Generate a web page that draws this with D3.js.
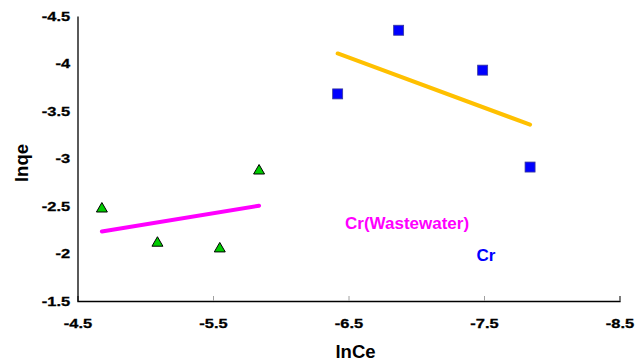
<!DOCTYPE html>
<html>
<head>
<meta charset="utf-8">
<script src="https://cdn.jsdelivr.net/npm/d3@7"></script>
<style>
  html, body { margin: 0; padding: 0; background: #fff; }
  svg { display: block; font-family: "Liberation Sans", Arial, sans-serif; }
</style>
</head>
<body>
<svg id="chart" width="644" height="363"></svg>
<script>
// ---- data ----
const wasteLnCe = [-4.68, -5.09, -5.55, -5.84];
const wasteLnQe = [-2.47, -2.11, -2.05, -2.87];
const crLnCe    = [-6.42, -6.87, -7.49, -7.84];
const crLnQe    = [-3.68, -4.35, -3.93, -2.91];
const xTicks = [-4.5, -5.5, -6.5, -7.5, -8.5];
const yTicks = [-1.5, -2, -2.5, -3, -3.5, -4, -4.5];
const seriesNames = ["Cr(Wastewater)", "Cr"];

const svg = d3.select("#chart");
const x = d3.scaleLinear().domain([-4.5, -8.5]).range([77.5, 619.5]);
const y = d3.scaleLinear().domain([-1.5, -4.5]).range([301, 16]);
const stretch = "scale(1.22,1)";

// axes
const xAxis = svg.append("g").attr("transform", `translate(0,${y(-1.5)})`)
  .call(d3.axisBottom(x).tickValues(xTicks).tickSize(-5).tickPadding(17).tickFormat(d => String(d)));
xAxis.select(".domain").attr("stroke", "#000").attr("stroke-width", 1.3);
xAxis.selectAll(".tick line").attr("stroke", "#a0a0a0");
xAxis.selectAll(".tick text").attr("font-size", 13.5).attr("font-weight", "bold")
  .attr("fill", "#000").attr("stroke", "#000").attr("stroke-width", 0.3)
  .attr("transform", stretch).attr("font-family", "Liberation Sans, Arial, sans-serif");

const yAxis = svg.append("g").attr("transform", `translate(${x(-4.5)},0)`)
  .call(d3.axisLeft(y).tickValues(yTicks).tickSize(0).tickPadding(6).tickFormat(d => String(d)));
yAxis.select(".domain").attr("stroke", "#000").attr("stroke-width", 1.3);
yAxis.selectAll(".tick text").attr("font-size", 13.5).attr("font-weight", "bold")
  .attr("fill", "#000").attr("stroke", "#000").attr("stroke-width", 0.3)
  .attr("transform", stretch).attr("font-family", "Liberation Sans, Arial, sans-serif");

// axis titles
svg.append("text").attr("x", 355.5).attr("y", 358).attr("text-anchor", "middle")
  .attr("font-size", 18.5).attr("font-weight", "bold").text("lnCe");
svg.append("text").attr("transform", "translate(28,163) rotate(-90)").attr("text-anchor", "middle")
  .attr("font-size", 18.5).attr("font-weight", "bold").text("lnqe");

// least-squares trend line
function fit(xs, ys) {
  const mx = d3.mean(xs), my = d3.mean(ys);
  const b = d3.sum(xs, (v, i) => (v - mx) * (ys[i] - my)) / d3.sum(xs, v => (v - mx) * (v - mx));
  const a = my - b * mx;
  const ex = d3.extent(xs);
  return ex.map(v => [v, a + b * v]);
}
const line = d3.line().x(d => x(d[0])).y(d => y(d[1]));

svg.append("path").datum(fit(wasteLnCe, wasteLnQe)).attr("d", line)
  .attr("stroke", "#FF00FF").attr("stroke-width", 4).attr("fill", "none").attr("stroke-linecap", "round");
svg.append("path").datum(fit(crLnCe, crLnQe)).attr("d", line)
  .attr("stroke", "#FFC000").attr("stroke-width", 4).attr("fill", "none").attr("stroke-linecap", "round");

// markers
const tri = d3.symbol().type(d3.symbolTriangle).size(52);
svg.selectAll(".tri").data(wasteLnCe.map((v, i) => [v, wasteLnQe[i]])).join("path")
  .attr("class", "tri").attr("d", tri)
  .attr("transform", d => `translate(${x(d[0])},${y(d[1])})`)
  .attr("fill", "#00CC00").attr("stroke", "#000").attr("stroke-width", 1);

svg.selectAll(".sq").data(crLnCe.map((v, i) => [v, crLnQe[i]])).join("rect")
  .attr("class", "sq")
  .attr("x", d => x(d[0]) - 5).attr("y", d => y(d[1]) - 5)
  .attr("width", 10).attr("height", 10)
  .attr("fill", "#0000FF").attr("stroke", "#3a3a9a").attr("stroke-width", 0.8);

// series labels
svg.append("text").attr("x", 345).attr("y", 229).attr("font-size", 17).attr("font-weight", "bold")
  .attr("fill", "#FF00FF").text(seriesNames[0]);
svg.append("text").attr("x", 476.5).attr("y", 261).attr("font-size", 17).attr("font-weight", "bold")
  .attr("fill", "#0000FF").text(seriesNames[1]);
</script>
</body>
</html>
